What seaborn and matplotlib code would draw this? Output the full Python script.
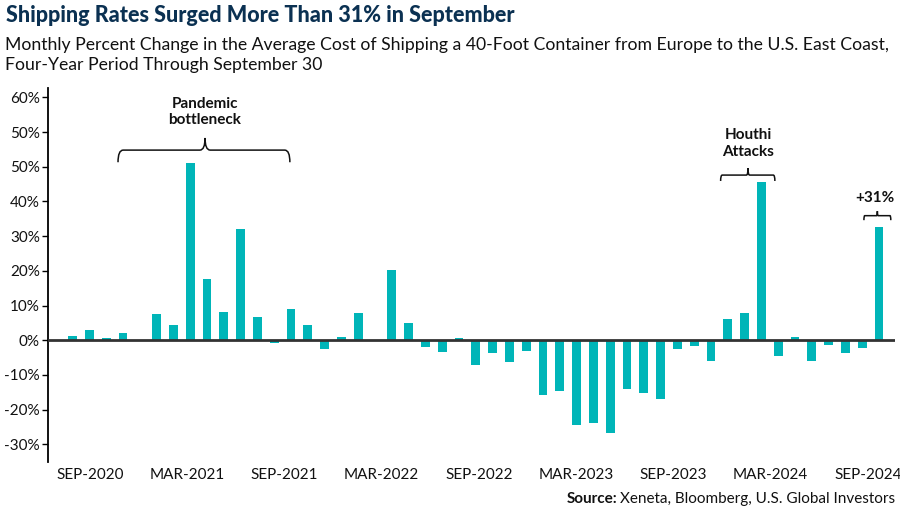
import numpy as np
import pandas as pd
import matplotlib
matplotlib.use("Agg")
import matplotlib.pyplot as plt
from matplotlib.path import Path
from matplotlib.patches import PathPatch
import seaborn as sns

# ---------------- data ----------------
months = [d.strftime("%b-%Y").upper() for d in pd.date_range("2020-09-01", "2024-09-01", freq="MS")]
pct_change = [
    1.2, 2.9, 0.6, 2.2, 0.2, 7.5, 4.3, 51.2, 17.7, 8.0, 32.0, 6.8, -0.8,
    8.9, 4.3, -2.4, 0.8, 7.8, 0.1, 20.3, 4.9, -1.9, -3.3, 0.7, -7.2,
    -3.8, -6.3, -3.0, -15.7, -14.7, -24.5, -23.8, -26.6, -14.1, -15.1, -17.0,
    -2.6, -1.6, -6.0, 6.1, 7.8, 45.7, -4.5, 1.0, -6.0, -1.4, -3.8, -2.1, 32.5,
]
x_tick_labels = ["SEP-2020", "MAR-2021", "SEP-2021", "MAR-2022", "SEP-2022",
                 "MAR-2023", "SEP-2023", "MAR-2024", "SEP-2024"]
y_tick_values = [-30, -20, -10, 0, 10, 20, 30, 40, 50, 60, 70]
y_tick_labels = ["-30%", "-20%", "-10%", "0%", "10%", "20%", "30%", "40%", "50%", "50%", "60%"]

df = pd.DataFrame({"month": months, "pct": pct_change})

# ---------------- style ----------------
sns.set_theme(style="white")
FONT = ["Lato", "DejaVu Sans"]
plt.rcParams["font.family"] = FONT

BAR = "#00B5B8"
NAVY = "#0B3152"

fig = plt.figure(figsize=(9, 5.12), dpi=100)
ax = fig.add_axes([48.3 / 900, 1 - 462 / 512, (895 - 48.3) / 900, (462 - 88) / 512])

sns.barplot(data=df, x="month", y="pct", color=BAR, saturation=1, width=0.52,
            edgecolor="none", ax=ax, order=months)

ax.set_xlim(-1.45, 48.95)
ax.set_ylim(-35.1, 72.7)
ax.axhline(0, color="#333333", lw=2.0, zorder=5)

# axes styling
for s in ["top", "right", "bottom"]:
    ax.spines[s].set_visible(False)
ax.spines["left"].set_color("black")
ax.spines["left"].set_linewidth(1.3)
ax.set_xlabel("")
ax.set_ylabel("")

ax.set_yticks(y_tick_values)
ax.set_yticklabels(y_tick_labels)
ax.tick_params(axis="y", direction="out", length=4, width=1, color="black",
               labelsize=11, labelcolor="#111111", pad=2, left=True)

xpos = [1.03 + k * (47.34 - 1.03) / (len(x_tick_labels) - 1) for k in range(len(x_tick_labels))]
ax.set_xticks(xpos)
ax.set_xticklabels(x_tick_labels)
ax.tick_params(axis="x", length=0, labelsize=11, labelcolor="#111111", pad=4)
ax.grid(False)


# ---------------- brackets & annotations ----------------
def bracket(ax, x0, x1, xm, y, y_end, y_peak, lw=1.1):
    r = (x1 - x0) * 0.03
    verts = [
        (x0, y_end), (x0, y), (x0 + r, y),
        (xm - r, y), (xm, y), (xm, y_peak),
        (xm, y), (xm + r, y), (x1 - r, y),
        (x1, y), (x1, y_end),
    ]
    codes = [Path.MOVETO, Path.CURVE3, Path.CURVE3,
             Path.LINETO, Path.CURVE3, Path.CURVE3,
             Path.CURVE3, Path.CURVE3, Path.LINETO,
             Path.CURVE3, Path.CURVE3]
    ax.add_patch(PathPatch(Path(verts, codes), fill=False, lw=lw, color="#111111",
                           clip_on=False, zorder=6))


bracket(ax, 2.70, 12.93, 7.88, 54.8, 51.3, 58.3)
bracket(ax, 38.57, 41.80, 40.2, 47.6, 45.9, 49.6)
bracket(ax, 47.1, 48.7, 47.9, 35.9, 34.6, 37.2)

ann_kw = dict(ha="center", va="center", fontsize=11, fontweight="bold",
              color="#111111", linespacing=1.25)
ax.text(7.88, 65.8, "Pandemic\nbottleneck", **ann_kw)
ax.text(40.2, 56.6, "Houthi\nAttacks", **ann_kw)
ax.text(47.77, 41.0, "+31%", **ann_kw)

# ---------------- titles ----------------
fig.text(6 / 900, 1 - 16 / 512, "Shipping Rates Surged More Than 31% in September",
         ha="left", va="center", fontsize=15.5, fontweight="black", color=NAVY)
fig.text(5 / 900, 1 - 45 / 512,
         "Monthly Percent Change in the Average Cost of Shipping a 40-Foot Container from Europe to the U.S. East Coast,",
         ha="left", va="center", fontsize=12.7, color="#111111")
fig.text(5 / 900, 1 - 65 / 512, "Four-Year Period Through September 30",
         ha="left", va="center", fontsize=12.7, color="#111111")

src = fig.text(895 / 900, 1 - 499 / 512, "Xeneta, Bloomberg, U.S. Global Investors",
               ha="right", va="center", fontsize=11, color="#111111")
fig.canvas.draw()
bb = src.get_window_extent()
fig.text((bb.x0 - 3) / 900, 1 - 499 / 512, "Source:", ha="right", va="center",
         fontsize=11, fontweight="bold", color="#111111")

fig.savefig("out.png", dpi=100)
